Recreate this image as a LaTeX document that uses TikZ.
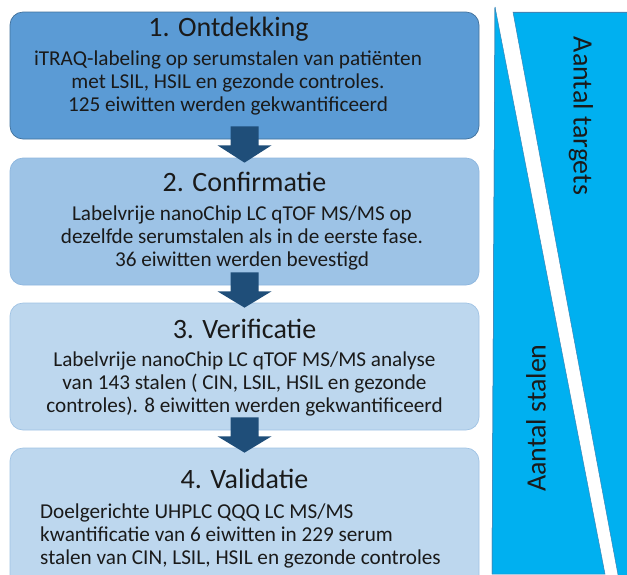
\documentclass[tikz,border=0pt]{standalone}
\usepackage{fontspec}
\setmainfont{Carlito}
\usetikzlibrary{calc}
\definecolor{boxA}{HTML}{5B9BD5}
\definecolor{boxB}{HTML}{9DC3E6}
\definecolor{boxC}{HTML}{BDD7EE}
\definecolor{lineA}{HTML}{41719C}
\definecolor{lineB}{HTML}{8DB6DE}
\definecolor{arrowc}{HTML}{1F4E79}
\definecolor{panel}{HTML}{00B0F0}
\definecolor{panelline}{HTML}{3C86B8}
\definecolor{txt}{HTML}{1A1A1A}
\tikzset{
  stagebox/.style={rectangle, rounded corners=13pt, minimum width=469pt, minimum height=127pt, inner sep=0pt, line width=0.7pt},
  titletext/.style={font=\fontsize{28}{32}\selectfont, text=txt, inner sep=0pt},
  bodytext/.style={font=\fontsize{21.2}{23}\selectfont, text=txt, inner sep=0pt, align=center},
  paneltext/.style={font=\fontsize{28}{32}\selectfont, text=txt, inner sep=0pt},
  panelshape/.style={fill=panel, draw=panelline, line width=0.5pt},
  blockarrow/.style={fill=arrowc}
}
\begin{document}
\begin{tikzpicture}[x=1pt,y=-1pt]
\useasboundingbox (0,0) rectangle (627,574);
\clip (0,0) rectangle (627,574);

% right panel
\fill[panelshape] (495,7) -- (605,574) -- (492,574) -- cycle;
\fill[panelshape] (513,12) -- (640,12) -- (640,580) -- (619,580) -- cycle;
\draw[panelline, line width=0.5pt] (495,7) -- (492,574);
\draw[panelline, line width=0.5pt] (513,12) -- (627,12);
\node[paneltext, rotate=-90] (targets) at (581,116) {Aantal targets};
\node[paneltext, rotate=90] (stalen) at (536,418) {Aantal stalen};

% boxes
\node[stagebox, fill=boxA, draw=lineA] (b1) at (244.5,75.5) {};
\node[stagebox, fill=boxB, draw=lineB] (b2) at (244.5,221.5) {};
\node[stagebox, fill=boxC, draw=lineB!60!boxC] (b3) at (244.5,366.5) {};
\node[stagebox, fill=boxC, draw=lineB!60!boxC, minimum height=150pt] (b4) at (244.5,523) {};

% arrows
\foreach \a/\b in {b1/b2, b2/b3, b3/b4}{
  \fill[blockarrow] let \p1=(\a.south), \p2=(\b.north) in
    (\x1-14pt,\y1+13pt) -- (\x1+14pt,\y1+13pt) -- (\x1+14pt,\y1-6pt) -- (\x1+27pt,\y1-6pt)
    -- (\x1,\y2-5pt) -- (\x1-27pt,\y1-6pt) -- (\x1-14pt,\y1-6pt) -- cycle;
}

% texts
\node[titletext] (t1) at (228.5,29) {1. Ontdekking};
\node[bodytext] (d1) at (228,83) {iTRAQ-labeling op serumstalen van patiënten\\met LSIL, HSIL en gezonde controles.\\125 eiwitten werden gekwantificeerd};
\node[titletext] (t2) at (244.5,182) {2. Confirmatie};
\node[bodytext] (d2) at (242,238) {Labelvrije nanoChip LC qTOF MS/MS op\\dezelfde serumstalen als in de eerste fase.\\36 eiwitten werden bevestigd};
\node[titletext] (t3) at (244.5,329) {3. Verificatie};
\node[bodytext] (d3) at (244.5,384) {Labelvrije nanoChip LC qTOF MS/MS analyse\\van 143 stalen ( CIN, LSIL, HSIL en gezonde\\controles). 8 eiwitten werden gekwantificeerd};
\node[titletext] (t4) at (244.5,479) {4. Validatie};
\node[bodytext, align=left, anchor=west] (d4) at (40,536) {Doelgerichte UHPLC QQQ LC MS/MS\\kwantificatie van 6 eiwitten in 229 serum\\stalen van CIN, LSIL, HSIL en gezonde controles};
\end{tikzpicture}
\end{document}
